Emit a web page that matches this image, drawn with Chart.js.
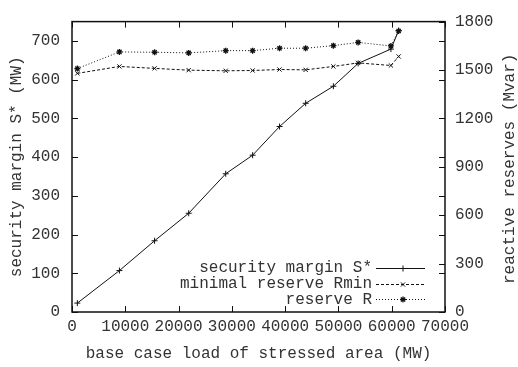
<!DOCTYPE html>
<html>
<head>
<meta charset="utf-8">
<script src="https://cdn.jsdelivr.net/npm/chart.js@4/dist/chart.umd.min.js"></script>
<style>
  html, body { margin: 0; padding: 0; background: #fff; }
  #wrap { width: 518px; height: 367px; }
</style>
</head>
<body>
<div id="wrap"><canvas id="chart"></canvas></div>
<script>
// base case load of the stressed area (MW)
const loads = [1000, 8900, 15500, 21900, 28850, 33900, 38950, 43850, 49050, 53700, 59850, 61300];
// security margin S* (MW), left axis
const securityMargin = [23, 107, 184, 255, 357, 405, 479, 539, 583, 642, 679, 727];
// minimal reserve Rmin (Mvar), right axis
const reserveMin = [1479, 1522, 1510, 1499, 1495, 1497, 1503, 1501, 1522, 1544, 1528, 1584];
// reserve R (Mvar), right axis
const reserveR = [1509, 1612, 1610, 1606, 1620, 1620, 1635, 1635, 1651, 1671, 1649, 1742];

const xTicks = [0, 10000, 20000, 30000, 40000, 50000, 60000, 70000];
const yTicks = [0, 100, 200, 300, 400, 500, 600, 700];
const y2Ticks = [0, 300, 600, 900, 1200, 1500, 1800];

const FONT = "'Liberation Mono', 'Courier New', monospace";
const fontSpec = { family: FONT, size: 16 };
const ink = '#111';
const textInk = '#333';

function pts(xs, ys) {
    return xs.map((x, i) => ({ x: x, y: ys[i] }));
}

// plain numbers, no thousands separators
const plain = v => String(v);

// gnuplot-like inward tick marks on all four borders, plus right axis title and key
const framePlugin = {
    id: 'frame',
    afterDraw(chart) {
        const ctx = chart.ctx;
        const a = chart.chartArea;
        const sx = chart.scales.x, sy = chart.scales.y, sy2 = chart.scales.y2;
        const len = 6;
        ctx.save();
        ctx.strokeStyle = ink;
        ctx.lineWidth = 1;
        ctx.beginPath();
        xTicks.forEach(v => {
            const px = Math.round(sx.getPixelForValue(v)) + 0.5;
            ctx.moveTo(px, a.bottom); ctx.lineTo(px, a.bottom - len);
            ctx.moveTo(px, a.top); ctx.lineTo(px, a.top + len);
        });
        yTicks.forEach(v => {
            const py = Math.round(sy.getPixelForValue(v)) + 0.5;
            ctx.moveTo(a.left, py); ctx.lineTo(a.left + len, py);
            ctx.moveTo(a.right, py); ctx.lineTo(a.right - len, py);
        });
        y2Ticks.forEach(v => {
            const py = Math.round(sy2.getPixelForValue(v)) + 0.5;
            ctx.moveTo(a.right, py); ctx.lineTo(a.right - len, py);
        });
        ctx.stroke();
        ctx.lineWidth = 1.5;
        ctx.strokeRect(a.left, a.top, a.right - a.left, a.bottom - a.top);

        // right axis title, reading bottom to top like the left one
        ctx.fillStyle = textInk;
        ctx.font = '16px ' + FONT;
        ctx.textAlign = 'center';
        ctx.textBaseline = 'middle';
        ctx.translate(510, (a.top + a.bottom) / 2 + 2);
        ctx.rotate(-Math.PI / 2);
        ctx.fillText('reactive reserves (Mvar)', 0, 0);
        ctx.restore();

        // key in the lower right corner: right-aligned text, then a line sample
        ctx.save();
        ctx.font = '16px ' + FONT;
        ctx.textAlign = 'right';
        ctx.textBaseline = 'middle';
        chart.data.datasets.forEach((ds, i) => {
            const y = 268 + i * 15.7;
            ctx.fillStyle = textInk;
            ctx.fillText(ds.label, 372, y);
            ctx.strokeStyle = ds.borderColor;
            ctx.lineWidth = 1;
            ctx.setLineDash(ds.borderDash || []);
            ctx.beginPath();
            ctx.moveTo(376, Math.round(y) + 0.5);
            ctx.lineTo(425, Math.round(y) + 0.5);
            ctx.stroke();
            ctx.setLineDash([]);
            ctx.lineWidth = ds.pointBorderWidth;
            Chart.helpers.drawPoint(ctx, {
                pointStyle: ds.pointStyle, radius: ds.pointRadius, borderWidth: ds.pointBorderWidth, rotation: 0
            }, 403, Math.round(y) + 0.5);
        });
        ctx.restore();
    }
};

new Chart(document.getElementById('chart'), {
    type: 'line',
    data: {
        datasets: [
            {
                label: 'security margin S*',
                data: pts(loads, securityMargin),
                yAxisID: 'y',
                borderColor: '#111',
                backgroundColor: '#111',
                borderWidth: 1,
                pointStyle: 'cross',
                pointRadius: 3,
                pointBorderWidth: 1
            },
            {
                label: 'minimal reserve Rmin',
                data: pts(loads, reserveMin),
                yAxisID: 'y2',
                borderColor: '#111',
                backgroundColor: '#111',
                borderWidth: 1,
                borderDash: [3, 2],
                pointStyle: 'crossRot',
                pointRadius: 3,
                pointBorderWidth: 1
            },
            {
                label: 'reserve R',
                data: pts(loads, reserveR),
                yAxisID: 'y2',
                borderColor: '#111',
                backgroundColor: '#111',
                borderWidth: 1,
                borderDash: [1, 2],
                pointStyle: 'star',
                pointRadius: 3,
                pointBorderWidth: 1.3
            }
        ]
    },
    options: {
        responsive: true,
        maintainAspectRatio: false,
        animation: false,
        layout: { padding: { top: 9 } },
        plugins: {
            legend: { display: false },
            tooltip: { enabled: false }
        },
        scales: {
            x: {
                type: 'linear',
                min: 0,
                max: 70000,
                afterBuildTicks: s => { s.ticks = xTicks.map(v => ({ value: v })); },
                afterFit: s => { s.height = 55; },
                grid: { display: false, drawTicks: false },
                border: { display: false },
                ticks: { color: textInk, font: fontSpec, padding: 5, maxRotation: 0, autoSkip: false, callback: plain },
                title: {
                    display: true,
                    text: 'base case load of stressed area (MW)',
                    color: textInk,
                    font: fontSpec,
                    padding: { top: 0, bottom: 4 }
                }
            },
            y: {
                type: 'linear',
                position: 'left',
                min: 0,
                max: 750,
                afterBuildTicks: s => { s.ticks = yTicks.map(v => ({ value: v })); },
                afterFit: s => { s.width = 72; },
                grid: { display: false, drawTicks: false },
                border: { display: false },
                ticks: { color: textInk, font: fontSpec, padding: 12, callback: plain },
                title: {
                    display: true,
                    text: 'security margin S* (MW)',
                    color: textInk,
                    font: fontSpec,
                    padding: { top: 7, bottom: 0 }
                }
            },
            y2: {
                type: 'linear',
                position: 'right',
                min: 0,
                max: 1800,
                afterBuildTicks: s => { s.ticks = y2Ticks.map(v => ({ value: v })); },
                afterFit: s => { s.width = 73; },
                grid: { display: false, drawTicks: false },
                border: { display: false },
                ticks: { color: textInk, font: fontSpec, padding: 10, callback: plain }
            }
        }
    },
    plugins: [framePlugin]
});
</script>
</body>
</html>
